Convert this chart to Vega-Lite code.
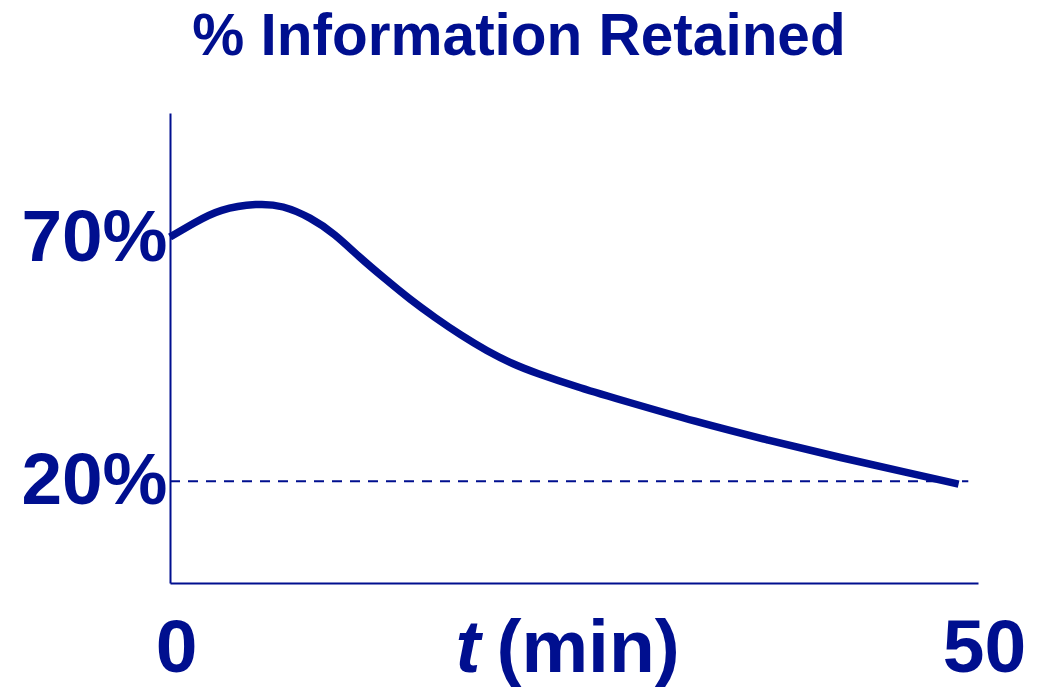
{
  "$schema": "https://vega.github.io/schema/vega-lite/v6.json",
  "width": 808,
  "height": 470,
  "autosize": {"type": "none"},
  "padding": {"left": 170, "top": 113, "right": 60, "bottom": 106},
  "background": "white",
  "config": {"view": {"stroke": null}, "font": "Liberation Sans"},
  "title": {
    "text": "% Information Retained",
    "font": "Liberation Sans",
    "fontSize": 58.5,
    "fontWeight": "bold",
    "color": "#000F8F",
    "anchor": "middle",
    "dx": -55,
    "offset": 46
  },
  "layer": [
    {
      "data": {"values": [{"x0": 0, "x1": 49.4, "y": 20}]},
      "mark": {"type": "rule", "color": "#000F8F", "strokeWidth": 2, "strokeDash": [10, 8]},
      "encoding": {
        "x": {"field": "x0", "type": "quantitative", "scale": {"domain": [0, 50], "nice": false}},
        "x2": {"field": "x1"},
        "y": {"field": "y", "type": "quantitative", "scale": {"domain": [-1, 96], "nice": false}}
      }
    },
    {
      "data": {"values": [
        {"t": 0.0, "r": 70.4},
        {"t": 1.5, "r": 73.3},
        {"t": 3.2, "r": 75.9},
        {"t": 5.3, "r": 77.1},
        {"t": 7.0, "r": 76.6},
        {"t": 8.66, "r": 74.3},
        {"t": 10.21, "r": 70.8},
        {"t": 11.76, "r": 66.2},
        {"t": 13.3, "r": 61.8},
        {"t": 14.85, "r": 57.6},
        {"t": 16.4, "r": 53.8},
        {"t": 18.0, "r": 50.2},
        {"t": 19.6, "r": 47.0},
        {"t": 21.2, "r": 44.3},
        {"t": 22.8, "r": 42.2},
        {"t": 25.4, "r": 39.3},
        {"t": 28.5, "r": 36.2},
        {"t": 32.5, "r": 32.4},
        {"t": 37.0, "r": 28.5},
        {"t": 41.5, "r": 24.9},
        {"t": 45.5, "r": 21.9},
        {"t": 48.8, "r": 19.4}
      ]},
      "mark": {"type": "line", "color": "#000F8F", "strokeWidth": 7.5, "strokeCap": "butt", "interpolate": "natural"},
      "encoding": {
        "x": {
          "field": "t", "type": "quantitative",
          "scale": {"domain": [0, 50], "nice": false},
          "axis": {
            "values": [0, 50], "title": null, "ticks": false, "grid": false,
            "domainColor": "#000F8F", "domainWidth": 2,
            "labelFont": "Liberation Sans", "labelFontSize": 75, "labelFontWeight": "bold",
            "labelColor": "#000F8F", "labelPadding": 88, "labelOffset": 6, "labelBaseline": "alphabetic",
            "labelFlush": false, "labelOverlap": false
          }
        },
        "y": {
          "field": "r", "type": "quantitative",
          "scale": {"domain": [-1, 96], "nice": false},
          "axis": {
            "values": [20, 70], "title": null, "ticks": false, "grid": false,
            "domainColor": "#000F8F", "domainWidth": 2,
            "labelExpr": "datum.value + '%'",
            "labelFont": "Liberation Sans", "labelFontSize": 73, "labelFontWeight": "bold",
            "labelColor": "#000F8F", "labelPadding": 3, "labelBaseline": "middle",
            "labelFlush": false, "labelOverlap": false
          }
        }
      }
    },
    {
      "data": {"values": [{"x": 18.44, "y": -19.3, "label": "t"}]},
      "mark": {"type": "text", "font": "Liberation Sans", "fontSize": 75, "fontWeight": "bold", "fontStyle": "italic", "color": "#000F8F", "align": "center", "baseline": "alphabetic"},
      "encoding": {
        "x": {"field": "x", "type": "quantitative", "scale": {"domain": [0, 50], "nice": false}},
        "y": {"field": "y", "type": "quantitative", "scale": {"domain": [-1, 96], "nice": false}},
        "text": {"field": "label"}
      }
    },
    {
      "data": {"values": [{"x": 20.2, "y": -19.3, "label": "(min)"}]},
      "mark": {"type": "text", "font": "Liberation Sans", "fontSize": 75, "fontWeight": "bold", "color": "#000F8F", "align": "left", "baseline": "alphabetic"},
      "encoding": {
        "x": {"field": "x", "type": "quantitative", "scale": {"domain": [0, 50], "nice": false}},
        "y": {"field": "y", "type": "quantitative", "scale": {"domain": [-1, 96], "nice": false}},
        "text": {"field": "label"}
      }
    }
  ]
}
